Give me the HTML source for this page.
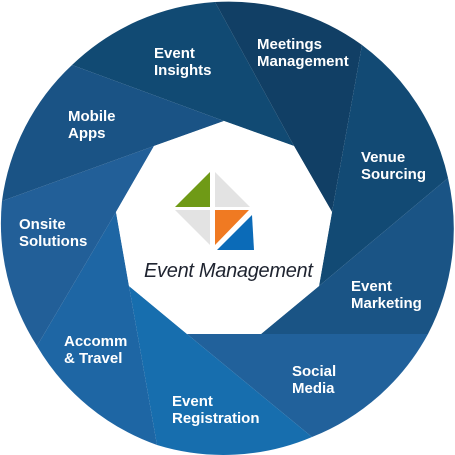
<!DOCTYPE html>
<html><head><meta charset="utf-8"><style>
html,body{margin:0;padding:0;background:#fff;width:455px;height:455px;overflow:hidden;}
svg{display:block;overflow:hidden;}
text{font-family:"Liberation Sans",sans-serif;font-weight:bold;font-size:15px;fill:#fff;}
</style></head><body>
<svg width="455" height="455" viewBox="0 0 455 455" xmlns="http://www.w3.org/2000/svg">
<path d="M224,121 L294,146 L215,2 A227,227 0 0 0 72,65 Z" fill="#114a73"/>
<path d="M294,146 L332,212 L362,45 A227,227 0 0 0 215,2 Z" fill="#113f65"/>
<path d="M332,212 L319,286 L448,178 A227,227 0 0 0 362,45 Z" fill="#124a74"/>
<path d="M319,286 L261,334 L428,334 A227,227 0 0 0 448,178 Z" fill="#1a5485"/>
<path d="M261,334 L187,334 L312,437 A227,227 0 0 0 428,334 Z" fill="#21619b"/>
<path d="M187,334 L129,286 L157,445 A227,227 0 0 0 312,437 Z" fill="#176eae"/>
<path d="M129,286 L116,212 L37,346 A227,227 0 0 0 157,445 Z" fill="#1e66a4"/>
<path d="M116,212 L154,146 L2,201 A227,227 0 0 0 37,346 Z" fill="#225f98"/>
<path d="M154,146 L224,121 L72,65 A227,227 0 0 0 2,201 Z" fill="#1a5385"/>
<polygon points="224,121 294,146 332,212 319,286 261,334 187,334 129,286 116,212 154,146" fill="#fff"/>
<polygon points="175,207 210,172 210,207" fill="#6f9a16"/>
<polygon points="215,172 215,207 250,207" fill="#e3e3e3"/>
<polygon points="175,210 210,210 210,245" fill="#e3e3e3"/>
<polygon points="215,210 249,210 215,245" fill="#f07a22"/>
<polygon points="252,215 254,250 217,250" fill="#0b6bb8"/>
<text x="144" y="277" style="font-weight:normal;font-style:italic;font-size:20px;letter-spacing:-0.3px;fill:#1f2430">Event Management</text>
<text x="154" y="58">Event</text><text x="154" y="75">Insights</text>
<text x="257" y="49">Meetings</text><text x="257" y="66">Management</text>
<text x="361" y="162">Venue</text><text x="361" y="179">Sourcing</text>
<text x="351" y="291">Event</text><text x="351" y="308">Marketing</text>
<text x="292" y="376">Social</text><text x="292" y="393">Media</text>
<text x="172" y="406">Event</text><text x="172" y="423">Registration</text>
<text x="64" y="346">Accomm</text><text x="64" y="363">&amp; Travel</text>
<text x="19" y="229">Onsite</text><text x="19" y="246">Solutions</text>
<text x="68" y="121">Mobile</text><text x="68" y="138">Apps</text>
</svg>
</body></html>
